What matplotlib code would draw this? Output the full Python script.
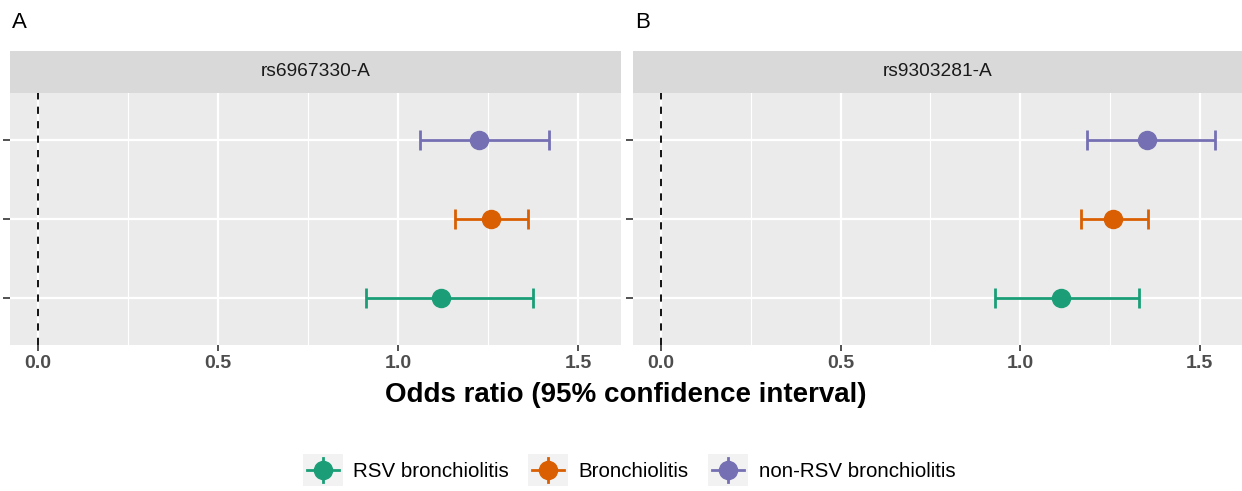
import numpy as np
import matplotlib
matplotlib.use("Agg")
import matplotlib.pyplot as plt
from matplotlib.legend_handler import HandlerBase
from matplotlib.patches import Rectangle
from matplotlib.lines import Line2D

plt.rcParams['font.family'] = ['Liberation Sans', 'DejaVu Sans']

# data
groups = ["RSV bronchiolitis", "Bronchiolitis", "non-RSV bronchiolitis"]
colors = ["#1B9E77", "#D95F02", "#7570B3"]
panels = ["rs6967330-A", "rs9303281-A"]
panel_tags = ["A", "B"]

or_a = [1.117, 1.256, 1.225]
lo_a = [0.911, 1.156, 1.059]
hi_a = [1.373, 1.361, 1.418]

or_b = [1.113, 1.260, 1.353]
lo_b = [0.930, 1.171, 1.187]
hi_b = [1.332, 1.357, 1.543]

xticks = [0.0, 0.5, 1.0, 1.5]
xticklabels = ["0.0", "0.5", "1.0", "1.5"]

W, H = 1242, 491
fig = plt.figure(figsize=(W / 100, H / 100), dpi=100)

def px(x0, y0, x1, y1):
    return [x0 / W, 1 - y1 / H, (x1 - x0) / W, (y1 - y0) / H]

boxes = [(10, 621), (633, 1242)]
data = [(or_a, lo_a, hi_a), (or_b, lo_b, hi_b)]

for k in range(2):
    x0, x1 = boxes[k]
    ax = fig.add_axes(px(x0, 93, x1, 345))
    ax.set_facecolor("#EBEBEB")
    for s in ax.spines.values():
        s.set_visible(False)
    ax.set_xlim(-0.078, 1.618)
    ax.set_ylim(0.4, 3.6)
    ax.set_xticks(xticks)
    ax.set_xticklabels(xticklabels)
    ax.set_xticks([0.25, 0.75, 1.25], minor=True)
    ax.set_yticks([1, 2, 3])
    ax.set_yticklabels([])
    ax.grid(True, which="major", color="white", linewidth=1.6)
    ax.grid(True, which="minor", axis="x", color="white", linewidth=0.8)
    ax.set_axisbelow(True)
    ax.tick_params(axis="x", which="major", length=4, width=1.2, color="#333333",
                   labelsize=14, labelcolor="#4D4D4D", pad=3)
    ax.tick_params(axis="x", which="minor", length=0)
    ax.tick_params(axis="y", length=5, width=1.2, color="#333333")
    for lab in ax.get_xticklabels():
        lab.set_fontweight("bold")
    ax.axvline(0, color="black", linestyle=(0, (4, 4)), linewidth=1.3, zorder=2)

    ors, los, his = data[k]
    for i in range(3):
        ax.errorbar(ors[i], i + 1, xerr=[[ors[i] - los[i]], [his[i] - ors[i]]],
                    fmt="o", color=colors[i], markersize=13, elinewidth=2,
                    capsize=7.5, capthick=2, zorder=3)

    sax = fig.add_axes(px(x0, 51, x1, 93))
    sax.set_facecolor("#D9D9D9")
    sax.set_xticks([])
    sax.set_yticks([])
    for s in sax.spines.values():
        s.set_visible(False)
    sax.text(0.5, 0.5, panels[k], ha="center", va="center", fontsize=13.8,
             color="#1A1A1A", transform=sax.transAxes)

    fig.text((x0 + 2) / W, 1 - 22 / H, panel_tags[k], ha="left", va="center",
             fontsize=16, color="black")

fig.text(626 / W, 1 - 395 / H, "Odds ratio (95% confidence interval)",
         ha="center", va="center", fontsize=20, fontweight="bold")


class PointRangeKey(HandlerBase):
    def create_artists(self, legend, orig_handle, xdescent, ydescent,
                       width, height, fontsize, trans):
        c = orig_handle.get_color()
        bg = Rectangle((-xdescent, -ydescent), width, height,
                       facecolor="#F2F2F2", edgecolor="none", transform=trans)
        cx = -xdescent + width / 2
        cy = -ydescent + height / 2
        h = Line2D([-xdescent + 0.1 * width, -xdescent + 0.9 * width], [cy, cy],
                   color=c, linewidth=2, transform=trans)
        v = Line2D([cx, cx], [-ydescent + 0.1 * height, -ydescent + 0.9 * height],
                   color=c, linewidth=2, transform=trans)
        m = Line2D([cx], [cy], marker="o", markersize=13, color=c,
                   linestyle="none", transform=trans)
        return [bg, h, v, m]


handles = [Line2D([], [], color=c) for c in colors]
fig.legend(handles, groups, handler_map={Line2D: PointRangeKey()},
           loc="center", bbox_to_anchor=(629 / W, 1 - 470 / H), ncol=3,
           frameon=False, fontsize=14.8, handlelength=1.95, handleheight=1.95,
           handletextpad=0.5, columnspacing=0.95, borderaxespad=0)

fig.savefig("out.png", dpi=100)
